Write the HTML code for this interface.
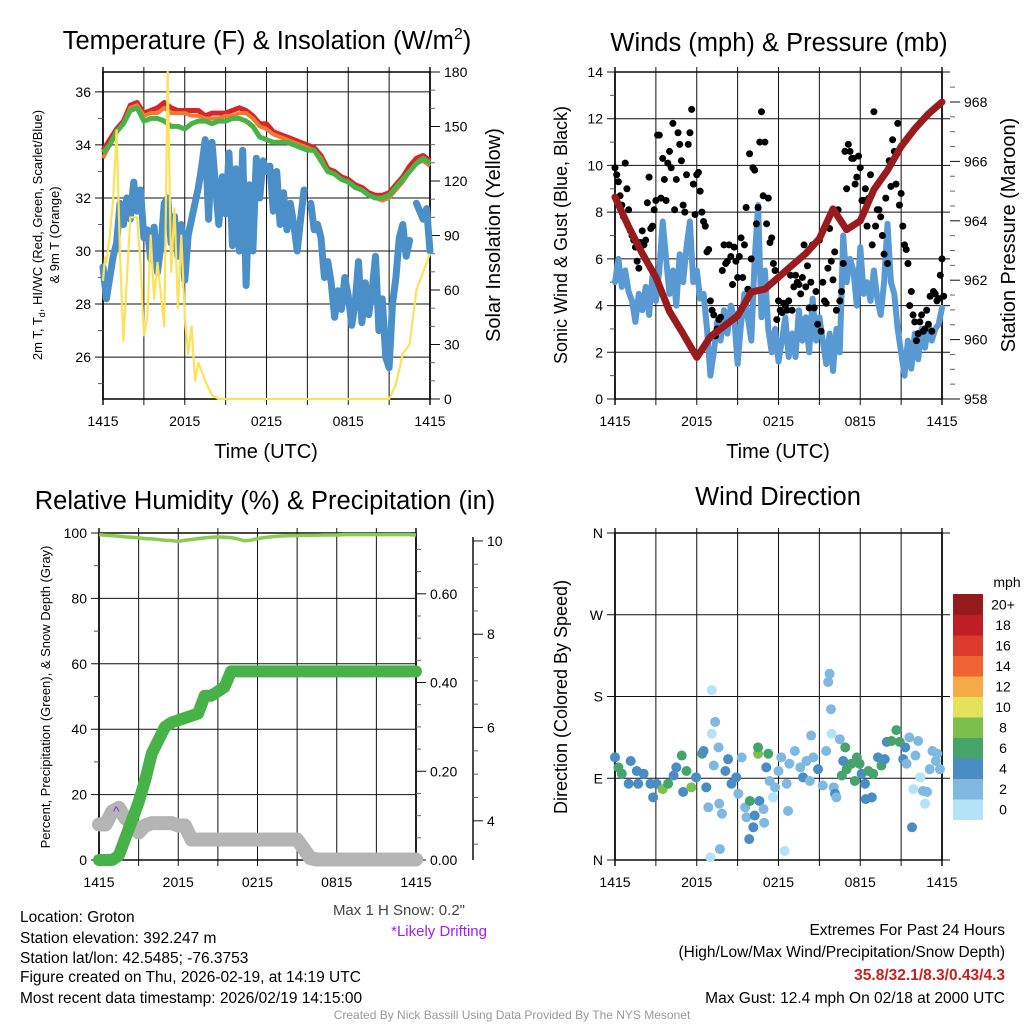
<!DOCTYPE html>
<html><head><meta charset="utf-8">
<style>
html,body{margin:0;padding:0;background:#fff;}
svg{display:block;font-family:"Liberation Sans",Arial,sans-serif;}
</style></head>
<body>
<svg id="chart" width="1024" height="1024" viewBox="0 0 1024 1024" xmlns="http://www.w3.org/2000/svg">
<rect x="0" y="0" width="1024" height="1024" fill="#fff"/>
<g id="layer"></g>
<text x="267" y="49" font-size="25.5" text-anchor="middle">Temperature (F) &amp; Insolation (W/m<tspan font-size="16" dy="-10">2</tspan><tspan dy="10">)</tspan></text>
<text x="779" y="51" font-size="25.5" text-anchor="middle">Winds (mph) &amp; Pressure (mb)</text>
<text x="265" y="509" font-size="25.5" text-anchor="middle">Relative Humidity (%) &amp; Precipitation (in)</text>
<text x="778" y="505" font-size="25.5" text-anchor="middle">Wind Direction</text>
<text x="266" y="458" font-size="20" text-anchor="middle">Time (UTC)</text>
<text x="778" y="458" font-size="20" text-anchor="middle">Time (UTC)</text>
<text transform="translate(42,235) rotate(-90)" font-size="13" text-anchor="middle">2m T, T<tspan font-size="9" dy="3">d</tspan><tspan dy="-3">, HI/WC (Red, Green, Scarlet/Blue)</tspan></text>
<text transform="translate(59,235) rotate(-90)" font-size="13" text-anchor="middle">&amp; 9m T (Orange)</text>
<text transform="translate(500,235) rotate(-90)" font-size="20" text-anchor="middle">Solar Insolation (Yellow)</text>
<text transform="translate(567,235) rotate(-90)" font-size="18" text-anchor="middle">Sonic Wind &amp; Gust (Blue, Black)</text>
<text transform="translate(1015,235) rotate(-90)" font-size="20" text-anchor="middle">Station Pressure (Maroon)</text>
<text transform="translate(50,697) rotate(-90)" font-size="13" text-anchor="middle">Percent, Precipitation (Green), &amp; Snow Depth (Gray)</text>
<text transform="translate(567,697) rotate(-90)" font-size="18" text-anchor="middle">Direction (Colored By Speed)</text>
<text x="465" y="915" font-size="15" text-anchor="end" fill="#444">Max 1 H Snow: 0.2"</text>
<text x="487" y="936" font-size="15" text-anchor="end" fill="#a020f0">*Likely Drifting</text>
<g font-size="15.5">
<text x="20" y="922">Location: Groton</text>
<text x="20" y="943">Station elevation: 392.247 m</text>
<text x="20" y="963">Station lat/lon: 42.5485; -76.3753</text>
<text x="20" y="982">Figure created on Thu, 2026-02-19, at 14:19 UTC</text>
<text x="20" y="1003">Most recent data timestamp: 2026/02/19 14:15:00</text>
</g>
<g font-size="15.5" text-anchor="end">
<text x="1005" y="935">Extremes For Past 24 Hours</text>
<text x="1005" y="957">(High/Low/Max Wind/Precipitation/Snow Depth)</text>
<text x="1005" y="980" fill="#c8201f" font-weight="bold">35.8/32.1/8.3/0.43/4.3</text>
<text x="1005" y="1003">Max Gust: 12.4 mph On 02/18 at 2000 UTC</text>
</g>
<text x="512" y="1019" font-size="12" text-anchor="middle" fill="#999">Created By Nick Bassill Using Data Provided By The NYS Mesonet</text>
</svg>
<script>
// ---- data ----
var timeLabels = ["1415","2015","0215","0815","1415"];
var tempRed = [33.8,34.2,34.6,34.9,35.5,35.6,35.2,35.3,35.4,35.6,35.4,35.3,35.3,35.3,35.3,35.1,35.2,35.2,35.2,35.3,35.4,35.3,35.1,34.8,34.8,34.5,34.4,34.3,34.2,34.1,34.0,33.9,33.6,33.1,33.0,32.8,32.7,32.5,32.4,32.2,32.1,32.1,32.2,32.5,32.8,33.2,33.5,33.6,33.4];
var tempGreen = [33.7,34.0,34.5,34.8,35.3,35.4,34.9,35.0,35.0,34.9,34.7,34.7,34.6,34.8,34.9,34.9,34.8,34.9,34.9,35.0,35.0,34.9,34.7,34.3,34.2,34.1,34.1,34.1,34.0,33.9,33.8,33.8,33.4,33.0,32.9,32.7,32.6,32.4,32.3,32.1,32.0,32.0,32.1,32.4,32.7,33.0,33.3,33.5,33.3];
var tempOrange = [33.5,34.0,34.5,34.8,35.4,35.5,35.1,35.2,35.2,35.4,35.2,35.2,35.2,35.1,35.1,35.0,35.0,35.0,35.1,35.1,35.2,35.2,35.0,34.7,34.6,34.4,34.3,34.2,34.1,34.0,33.9,33.8,33.5,33.0,32.9,32.7,32.6,32.4,32.3,32.1,32.0,31.9,32.0,32.3,32.6,33.0,33.3,33.4,33.2];
var dewpoint = [29.4,28.2,29.0,29.8, 30.3,31.8,31.0,32.0, 31.2,32.6,31.5,32.3, 30.5,30.8,29.7,30.9, 29.2,30.2,31.8,32.0, 30.3,31.3,29.8,31.0, 28.9,30.6,31.2,31.8, 32.4,33.2,34.2,31.2, 34.1,32.5,31.0,32.8, 31.4,33.7,30.2,33.1, 30.0,33.8,28.7,32.5, 30.0,33.5,32.0,33.4, 33.0,33.2,31.5,33.0, 31.0,32.2,30.8,31.8, 31.0,30.0,31.2,32.3, null,31.8,30.8,31.0, 30.5,29.0,29.6,28.8, 27.5,28.5,27.8,29.0, 28.3,27.2,28.0,29.6, 27.3,28.8,27.6,28.5, 29.8,27.0,28.2,26.0, 25.6,28.0,29.0,30.5, 31.0,29.8,30.4,null, 31.8,31.5,31.2,31.6, 30.0];
var solarTimes = [0,0.15,0.25,0.5,0.75,1,1.25,1.5,2,2.5,2.75,3,3.25,3.5,3.75,4,4.5,4.75,5,5.25,5.5,5.75,6,6.25,6.5,6.75,7,7.5,8,8.5,21,21.5,22,22.5,23,23.5,24];
var solarValues = [65,78,75,90,110,148,80,32,100,100,75,35,45,90,55,75,40,180,70,105,50,90,45,25,40,10,20,10,2,0,0,8,25,30,60,70,80];
var sonicWind = [5.0,6.0,4.8,5.5, 4.6,4.2,3.3,4.5, 3.8,4.8,3.6,5.3, 4.2,5.5,7.6,6.0, 4.5,5.5,4.0,6.2, 5.0,6.5,7.6,5.0, 5.5,4.3,4.5,3.0, 1.0,2.0,3.3,2.5, 3.8,2.8,4.0,3.5, 1.5,3.2,4.5,3.5, 2.5,6.0,8.3,3.5, 5.5,3.0,2.0,3.0, 1.6,2.5,3.5,1.8, 2.8,1.8,3.8,2.5, 3.5,2.0,4.3,2.5, 3.5,2.5,1.5,2.8, 1.2,3.0,2.0,7.0, 5.0,6.0,5.5,4.0, 6.5,4.5,5.0,4.2, 5.5,4.3,3.6,5.0, 7.5,5.0,4.5,3.0, 2.0,1.0,2.5,1.3, 2.8,1.7,3.0,2.2, 3.2,2.5,3.0,3.2, 3.9];
var gusts = [9.9,9.3,8.3,10.1, 8.1,7.0,6.5,5.6, 7.2,6.8,9.5,7.4, 8.5,11.3,10.3,8.5, 10.6,11.8,9.4,10.9, 8.3,9.6,11.4,9.2, 9.6,8.9,7.6,6.3, 4.2,3.6,3.0,3.5, 6.6,5.9,6.1,6.5, 5.2,6.9,6.6,4.7, 6.0,9.8,8.2,12.3, 11.0,8.6,6.9,5.5, 4.2,3.7,4.0,4.2, 3.8,5.3,4.9,5.2, 4.8,3.9,6.6,4.6, 6.8,5.0,4.1,7.3, 5.1,3.8,4.2,5.8, 9.0,10.6,10.3,9.5, 9.9,8.5,7.4,9.6, 12.3,8.1,7.8,6.2, 5.8,9.1,10.6,11.8, 8.8,6.6,5.8,4.6, 3.3,2.8,3.6,3.0, 3.2,2.9,4.5,4.3, 6.0];
var gustsB = [9.6,8.7,7.8,9.0, 7.2,6.8,5.9,6.7, 6.6,8.4,7.3,8.1, 11.3,8.6,9.4,10.1, 9.9,8.1,11.4,10.2, 8.0,10.9,12.4,7.9, 9.7,8.0,7.4,6.4, 3.8,2.7,3.4,5.5, 5.8,6.6,4.9,5.9, 6.1,5.2,8.2,10.5, 9.9,7.5,11.0,8.7, 7.5,6.7,5.8,3.4, 3.8,4.1,3.8,5.3, 4.8,5.0,4.5,6.6, 5.7,5.0,3.9,3.2, 2.9,4.2,5.6,5.9, 6.3,8.1,4.6,10.6, 10.9,10.3,9.2,10.4, 8.5,9.0,8.6,6.6, 7.4,8.1,7.0,8.6, 10.2,11.1,9.2,8.3, 7.4,6.4,4.0,3.6, 2.5,3.3,2.9,3.8, 4.4,4.6,4.2,5.3, 4.4];
var pressure = [964.8,963.8,962.9,962.1,960.95,960.2,959.4,960.1,960.45,960.8,961.6,961.7,962.1,962.5,962.9,963.4,964.4,963.7,964.0,965.05,965.7,966.5,967.1,967.6,968.0];
var rhValues = [99.5,99.3,99.2,99.0,98.8,98.7,98.5,98.3,98.2,98.0,97.8,97.7,97.4,97.8,98.0,98.3,98.5,98.7,98.8,98.7,98.6,98.2,97.6,97.8,98.3,98.6,98.8,99.0,99.1,99.2,99.2,99.3,99.3,99.3,99.4,99.4,99.4,99.5,99.5,99.5,99.5,99.5,99.5,99.5,99.5,99.5,99.5,99.5,99.4];
var precip = [0,0,0,0.01,0.05,0.09,0.13,0.18,0.24,0.27,0.30,0.31,0.315,0.32,0.325,0.33,0.37,0.37,0.38,0.39,0.425,0.425,0.425,0.425,0.425,0.425,0.425,0.425,0.425,0.425,0.425,0.425,0.425,0.425,0.425,0.425,0.425,0.425,0.425,0.425,0.425,0.425,0.425,0.425,0.425,0.425,0.425,0.425,0.425];
var snowDepth = [3.92,3.92,4.2,4.28,4.05,3.95,3.75,3.9,3.95,3.95,3.95,3.95,3.9,3.9,3.6,3.6,3.6,3.6,3.6,3.6,3.6,3.6,3.6,3.6,3.6,3.6,3.6,3.6,3.6,3.6,3.6,3.4,3.2,3.17,3.17,3.17,3.17,3.17,3.17,3.17,3.17,3.17,3.17,3.17,3.17,3.17,3.17,3.17,3.17];
var dirTimes = [0,0.25,0.5,1,1.15,1.6,1.7,2.1,2.6,2.8,3.05,3.5,3.9,4.3,4.5,4.9,5.0,5.25,5.6,5.95,6.4,6.5,6.7,6.85,7.1,7.1,7.25,7.35,7.6,7.65,7.85,7.7,7.0,8.1,8.3,8.55,8.9,9.05,9.3,9.55,9.65,9.85,9.9,10.15,10.25,10.5,10.5,10.6,10.9,10.95,11.25,11.1,11.35,11.6,11.75,12.0,12.2,12.45,12.6,12.7,12.8,13.2,13.6,13.8,14.05,14.3,14.4,14.55,14.9,15.25,15.5,15.65,15.75,15.85,15.9,16.05,16.15,16.25,16.5,16.9,16.75,16.65,17.0,17.35,17.6,17.75,17.95,18.1,18.35,18.4,18.6,18.85,18.95,19.3,19.55,19.8,19.95,20.3,20.65,20.9,21.15,21.3,21.4,21.6,21.8,21.9,22.05,22.25,22.4,22.6,22.75,22.9,23.1,23.3,23.55,23.65,23.85];
var dirDegrees = [113,102,95,84,109,98,84,95,84,69,84,78,84,93,102,115,75,98,80,91,117,120,80,58,187,139,104,152,124,62,51,12,3,98,111,84,91,73,113,58,47,23,65,36,49,117,124,65,56,41,117,102,87,69,80,98,113,10,84,54,106,120,102,91,109,87,137,113,100,82,120,196,205,166,139,80,73,69,133,124,109,93,100,106,87,113,106,95,84,67,98,69,95,113,104,111,130,131,143,130,111,124,106,135,36,78,115,131,91,76,62,75,100,120,109,117,100,102];
var dirSpeeds = [4.5,6.5,6.5,4.5,4.5,4.5,4.5,4.5,4.5,4.5,4.5,8.5,6.5,4.5,4.5,6.5,4.5,6.5,8.5,4.5,6.5,4.5,4.5,2.5,0.5,0.5,2.5,2.5,2.5,2.5,2.5,2.5,0.5,4.5,4.5,4.5,4.5,2.5,2.5,2.5,2.5,4.5,6.5,4.5,4.5,8.5,6.5,4.5,2.5,2.5,6.5,4.5,2.5,0.5,2.5,2.5,2.5,0.5,2.5,2.5,2.5,2.5,2.5,4.5,2.5,2.5,2.5,2.5,4.5,2.5,2.5,2.5,2.5,2.5,0.5,2.5,4.5,2.5,2.5,6.5,4.5,6.5,6.5,6.5,6.5,6.5,6.5,4.5,4.5,4.5,6.5,4.5,6.5,4.5,6.5,4.5,4.5,6.5,6.5,6.5,4.5,4.5,2.5,2.5,4.5,0.5,2.5,2.5,0.5,2.5,0.5,2.5,2.5,2.5,2.5,2.5,2.5,4.5];
var speedBins = ["0","2","4","6","8","10","12","14","16","18","20+"];
var speedColors = ["#b4e2f6","#7fb9e2","#4a8cc4","#45a46b","#7bc04a","#e6e15c","#f5aa48","#ee632f","#dc3a2b","#bf1e26","#951a1c"];

// ---- helpers ----
var NS = "http://www.w3.org/2000/svg";
var layer = document.getElementById("layer");
function mk(tag, attrs, name) {
  var el = document.createElementNS(NS, tag);
  for (var k in attrs) el.setAttribute(k, attrs[k]);
  
  
  layer.appendChild(el);
  return el;
}
function ln(x1,y1,x2,y2,c,w,name){ return mk("line",{x1:x1,y1:y1,x2:x2,y2:y2,stroke:c,"stroke-width":w},name); }
function tx(x,y,s,size,anchor,name){ var t=mk("text",{x:x,y:y,"font-size":size,"text-anchor":anchor},name); t.textContent=s; return t; }
function scale(d0,d1,r0,r1){ return function(v){ return r0+(v-d0)*(r1-r0)/(d1-d0); }; }
function pathFrom(xs, ys){ var d="",pen=false; for(var i=0;i<xs.length;i++){ if(ys[i]===null||ys[i]===undefined){pen=false;continue;} d+=(pen?"L":"M")+xs[i].toFixed(1)+","+ys[i].toFixed(1); pen=true; } return d; }

function frame(P, name){
  var xs = scale(0,24,P.x0,P.x1);
  for (var h=0; h<=24; h+=3){
    var x = xs(h);
    ln(x,P.y0-5,x,P.y1+6,"#111",h%24===0?1.5:1,name+"-vgrid");
  }
  for (var i=0;i<timeLabels.length;i++){
    tx(xs(i*6), P.y1+27, timeLabels[i], 14, "middle", name+"-x-tick-label");
  }
  mk("rect",{x:P.x0,y:P.y0,width:P.x1-P.x0,height:P.y1-P.y0,fill:"none",stroke:"#000","stroke-width":1.5},name+"-frame");
  return xs;
}
function leftAxis(P, ys, ticks, labels, minor, name, gridExt){
  for (var i=0;i<ticks.length;i++){
    var y=ys(ticks[i]);
    ln(P.x0-8,y,P.x1+(gridExt||0),y,"#111",1,name+"-hgrid");
    tx(P.x0-12,y+5,labels[i],14,"end",name+"-y-tick-label");
  }
  for (var j=0;j<minor.length;j++){ var y2=ys(minor[j]); ln(P.x0-5,y2,P.x0,y2,"#555",1,name+"-minor-tick"); }
}
function rightAxis(x, ys, ticks, labels, minor, name){
  for (var i=0;i<ticks.length;i++){
    var y=ys(ticks[i]);
    ln(x,y,x+10,y,"#111",1,name+"-right-tick");
    tx(x+14,y+5,labels[i],14,"start",name+"-right-tick-label");
  }
  for (var j=0;j<minor.length;j++){ var y2=ys(minor[j]); ln(x,y2,x+5,y2,"#666",1,name+"-right-minor-tick"); }
}
function halfHours(n){ var a=[]; for(var i=0;i<n;i++) a.push(i*24/(n-1)); return a; }

// ---- Panel 1: temperature ----
var P1={x0:103,x1:430,y0:72,y1:399};
var xs1=frame(P1,"temp");
var yT=scale(24.42,36.75,P1.y1,P1.y0);
var yS=scale(0,180,P1.y1,P1.y0);
leftAxis(P1,yT,[26,28,30,32,34,36],["26","28","30","32","34","36"],[25,27,29,31,33,35],"temp");
rightAxis(P1.x1,yS,[0,30,60,90,120,150,180],["0","30","60","90","120","150","180"],[10,20,40,50,70,80,100,110,130,140,160,170],"insolation");
var tt=halfHours(tempRed.length), td=halfHours(dewpoint.length);
mk("path",{d:pathFrom(td.map(xs1),dewpoint.map(function(v){return v===null?null:yT(v);})),fill:"none",stroke:"#4b8fc8","stroke-width":7,"stroke-linejoin":"round","stroke-linecap":"round"},"dewpoint-line");
mk("path",{d:pathFrom(tt.map(xs1),tempRed.map(yT)),fill:"none",stroke:"#d7262a","stroke-width":5,"stroke-linejoin":"round"},"temperature-line");
mk("path",{d:pathFrom(tt.map(xs1),tempOrange.map(yT)),fill:"none",stroke:"#f07a32","stroke-width":4,"stroke-linejoin":"round"},"temperature-9m-line");
mk("path",{d:pathFrom(tt.map(xs1),tempGreen.map(yT)),fill:"none",stroke:"#4ab347","stroke-width":5,"stroke-linejoin":"round"},"heat-index-line");
mk("path",{d:pathFrom(solarTimes.map(xs1),solarValues.map(yS)),fill:"none",stroke:"#fbe25a","stroke-width":2.2,"stroke-linejoin":"round"},"insolation-line");

// ---- Panel 2: winds ----
var P2={x0:615,x1:942,y0:72,y1:399};
var xs2=frame(P2,"wind");
var yW=scale(0,14,P2.y1,P2.y0);
var yP=scale(958,969.01,P2.y1,P2.y0);
leftAxis(P2,yW,[0,2,4,6,8,10,12,14],["0","2","4","6","8","10","12","14"],[1,3,5,7,9,11,13],"wind",8);
rightAxis(P2.x1+8,yP,[958,960,962,964,966,968],["958","960","962","964","966","968"],[958.5,959,959.5,960.5,961,961.5,962.5,963,963.5,964.5,965,965.5,966.5,967,967.5,968.5],"pressure");
var tw=halfHours(sonicWind.length);
mk("path",{d:pathFrom(tw.map(xs2),sonicWind.map(yW)),fill:"none",stroke:"#5a9ad4","stroke-width":6,"stroke-linejoin":"round","stroke-linecap":"round"},"sonic-wind-line");
var tg=halfHours(gusts.length);
for (var i=0;i<gusts.length;i++){
  mk("circle",{cx:xs2(tg[i]),cy:yW(gusts[i]),r:3.5,fill:"#000"},"gust-point");
}
for (var i=0;i<gustsB.length;i++){
  mk("circle",{cx:xs2(tg[i]+0.125),cy:yW(gustsB[i]),r:3.5,fill:"#000"},"gust-point");
}
var tp=halfHours(pressure.length);
mk("path",{d:pathFrom(tp.map(xs2),pressure.map(yP)),fill:"none",stroke:"#9a1b1d","stroke-width":7,"stroke-linejoin":"round","stroke-linecap":"round"},"pressure-line");

// ---- Panel 3: humidity ----
var P3={x0:99,x1:416,y0:533,y1:860};
var xs3=frame(P3,"rh");
var yR=scale(0,100,P3.y1,P3.y0);
var yPr=scale(0,0.737,P3.y1,P3.y0);
var ySn=scale(3.16,10.17,P3.y1,P3.y0);
leftAxis(P3,yR,[0,20,40,60,80,100],["0","20","40","60","80","100"],[10,30,50,70,90],"rh");
rightAxis(P3.x1,yPr,[0,0.2,0.4,0.6],["0.00","0.20","0.40","0.60"],[0.05,0.1,0.15,0.25,0.3,0.35,0.45,0.5,0.55,0.65,0.7],"precip");
ln(473,537,473,860,"#111",1.5,"snow-axis-line");
rightAxis(473,ySn,[4,6,8,10],["4","6","8","10"],[3.5,4.5,5,5.5,6.5,7,7.5,8.5,9,9.5],"snow");
var th=halfHours(snowDepth.length);
mk("path",{d:pathFrom(th.map(xs3),snowDepth.map(ySn)),fill:"none",stroke:"#b4b4b4","stroke-width":14,"stroke-linejoin":"round","stroke-linecap":"round"},"snow-depth-line");
mk("path",{d:pathFrom(th.map(xs3),precip.map(yPr)),fill:"none",stroke:"#47b248","stroke-width":12,"stroke-linejoin":"round","stroke-linecap":"round"},"precipitation-line");
mk("path",{d:pathFrom(halfHours(rhValues.length).map(xs3),rhValues.map(yR)),fill:"none",stroke:"#8ccb52","stroke-width":3.5,"stroke-linejoin":"round"},"humidity-line");
tx(xs3(1.3),yR(13.5),"^",14,"middle","drifting-marker").setAttribute("fill","#a020f0");

// ---- Panel 4: wind direction ----
var P4={x0:615,x1:942,y0:533,y1:860};
var xs4=frame(P4,"dir");
var yD=scale(0,360,P4.y1,P4.y0);
leftAxis(P4,yD,[0,90,180,270,360],["N","E","S","W","N"],[],"dir",8);
for (var i=0;i<dirTimes.length;i++){
  var bin=Math.min(10,Math.floor(dirSpeeds[i]/2));
  mk("circle",{cx:xs4(dirTimes[i]),cy:yD(dirDegrees[i]),r:5,fill:speedColors[bin]},"direction-point");
}
// colorbar
var cbTop=594, cbH=20.5;
for (var k=0;k<speedBins.length;k++){
  var yb=cbTop+(10-k)*cbH;
  mk("rect",{x:953,y:yb,width:30,height:cbH+0.5,fill:speedColors[k]},"colorbar-swatch");
  tx(1003,yb+cbH/2+5,speedBins[k],14,"middle","colorbar-label");
}
tx(1007,587,"mph",14,"middle","colorbar-title");
</script>
</body></html>
